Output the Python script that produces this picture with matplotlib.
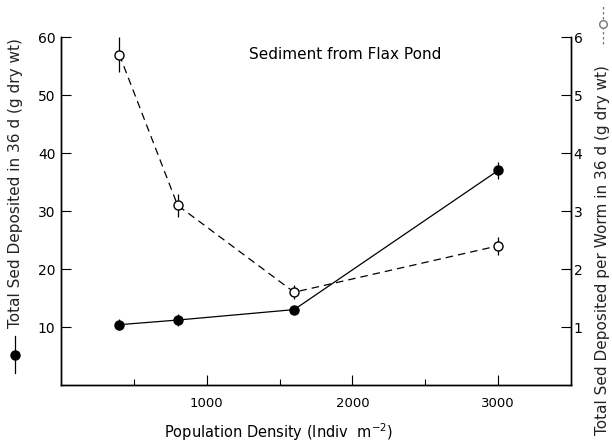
import matplotlib
matplotlib.use("Agg")
import matplotlib.pyplot as plt
from matplotlib.lines import Line2D

# data
density = [400, 800, 1600, 3000]
total_sed = [10.4, 11.2, 13.0, 37.0]
total_err = [1.0, 1.0, 0.6, 1.5]
per_worm = [5.7, 3.1, 1.6, 2.4]
per_worm_err = [0.3, 0.2, 0.12, 0.15]

x_ticks = [1000, 2000, 3000]
x_minor = [500, 1500, 2500]
left_ticks = [10, 20, 30, 40, 50, 60]
right_ticks = [1, 2, 3, 4, 5, 6]

plt.rcParams['font.family'] = ['DejaVu Sans']

fig = plt.figure(figsize=(6.12, 4.42), dpi=100)
ax = fig.add_axes([0.0997, 0.129, 0.8333, 0.787])
ax2 = ax.twinx()

ax.errorbar(density, total_sed, yerr=total_err, color='black', lw=0.9,
            marker='o', ms=6.5, mfc='black', mec='black', elinewidth=0.9, capsize=0)
ax2.errorbar(density, per_worm, yerr=per_worm_err, color='black', lw=0.9,
             ls=(0, (6, 4)), marker='o', ms=6.5, mfc='white', mec='black',
             mew=1.0, elinewidth=0.9, capsize=0)

ax.set_xlim(0, 3500)
ax.set_ylim(0, 60)
ax2.set_ylim(0, 6)

ax.set_xticks(x_ticks)
ax.set_xticks(x_minor, minor=True)
ax.set_yticks(left_ticks)
ax2.set_yticks(right_ticks)

ax.tick_params(axis='x', direction='in', length=7, width=0.8, labelsize=9.5, pad=9)
ax.tick_params(axis='x', which='minor', direction='in', length=4, width=0.8)
ax.tick_params(axis='y', direction='in', length=7, width=0.8, labelsize=10, pad=4)
ax2.tick_params(axis='y', direction='in', length=7, width=0.8, labelsize=10, pad=2)

for a in (ax, ax2):
    a.spines['top'].set_visible(False)
    for s in ('left', 'right', 'bottom'):
        a.spines[s].set_linewidth(1.0)

fig.text(0.456, 0.023, 'Population Density (Indiv  m$^{-2}$)', fontsize=10.5,
         ha='center', va='center')

ax.text(1950, 57, 'Sediment from Flax Pond', fontsize=11, ha='center', va='center')

# left y label with filled symbol
fig.text(0.025, 0.585, 'Total Sed Deposited in 36 d (g dry wt)', rotation=90,
         fontsize=11, ha='center', va='center', color='#222222')
fig.add_artist(Line2D([0.025, 0.025], [0.155, 0.24], color='black', lw=0.9,
                      transform=fig.transFigure))
fig.add_artist(Line2D([0.025], [0.197], marker='o', ms=6.5, color='black',
                      transform=fig.transFigure))

# right y label with open symbol
fig.text(0.985, 0.435, 'Total Sed Deposited per Worm in 36 d (g dry wt)', rotation=90,
         fontsize=11, ha='center', va='center', color='#222222')
fig.add_artist(Line2D([0.985, 0.985], [0.90, 0.99], color='#777777', lw=0.9,
                      ls=(0, (2, 2)), transform=fig.transFigure))
fig.add_artist(Line2D([0.985], [0.945], marker='o', ms=5.5, mfc='white', mec='#777777',
                      transform=fig.transFigure))

fig.savefig('out.png', dpi=100)
